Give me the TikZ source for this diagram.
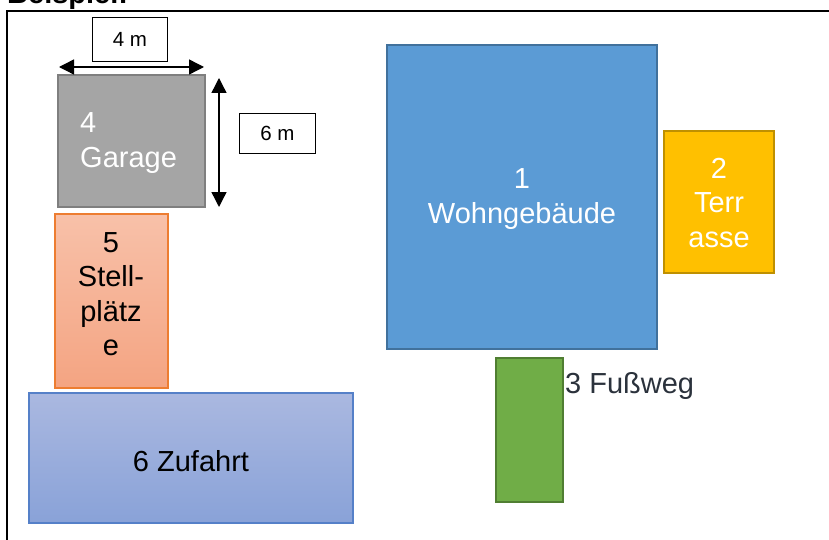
\documentclass[tikz,border=0pt]{standalone}
\usepackage{fontspec}
\setmainfont{Liberation Sans}
\usetikzlibrary{arrows.meta}
\definecolor{garagefill}{HTML}{A5A5A5}
\definecolor{garageline}{HTML}{7F7F7F}
\definecolor{stelltop}{HTML}{F8C1A9}
\definecolor{stellbot}{HTML}{F4A482}
\definecolor{stellline}{HTML}{ED7D31}
\definecolor{zutop}{HTML}{AAB8E0}
\definecolor{zubot}{HTML}{89A2D8}
\definecolor{zuline}{HTML}{5580C8}
\definecolor{wohnfill}{HTML}{5B9BD5}
\definecolor{wohnline}{HTML}{41719C}
\definecolor{terrfill}{HTML}{FFC000}
\definecolor{terrline}{HTML}{BF9000}
\definecolor{wegfill}{HTML}{70AD47}
\definecolor{wegline}{HTML}{507E32}
\definecolor{wegtext}{HTML}{2B323C}
\begin{document}
\begin{tikzpicture}[x=1pt,y=-1pt,
  area/.style={draw, line width=1.8pt, inner sep=0pt, outer sep=0pt, anchor=north west},
  big/.style={font=\fontsize{29}{34.5}\selectfont, align=center, inner sep=0pt},
  dimbox/.style={draw=black, line width=1pt, fill=white, anchor=north west, inner sep=0pt, font=\fontsize{20.5}{24}\selectfont},
  dimarrow/.style={{Triangle[length=15pt,width=15pt]}-{Triangle[length=15pt,width=15pt]}, line width=1.4pt}]
\useasboundingbox (0,0) rectangle (829,540);
% frame
\draw[line width=2pt] (7,541) -- (7,11) -- (830,11);
\node[anchor=base west, inner sep=0pt, font=\bfseries\fontsize{29}{34}\selectfont] (title) at (7,4) {Beispiel:};
% garage
\node[area, fill=garagefill, draw=garageline, minimum width=147pt, minimum height=132pt] (garage) at (58,75) {};
\node[big, text=white, align=left, anchor=west] (garagetext) at (80,143) {4\\Garage};
% dimensions
\node[dimbox, minimum width=75pt, minimum height=44pt] (dimw) at (92,17) {4 m};
\node[dimbox, minimum width=76pt, minimum height=40pt] (dimh) at (239,113) {6 m};
\coordinate (hl) at (59,67);
\coordinate (hr) at (204,67);
\draw[dimarrow] (hl) -- (hr);
\coordinate (vt) at (219,78);
\coordinate (vb) at (219,207);
\draw[dimarrow] (vt) -- (vb);
% Stellplaetze
\node[area, top color=stelltop, bottom color=stellbot, draw=stellline, line width=1.3pt, minimum width=113pt, minimum height=174pt] (stell) at (55,214) {};
\node[big, text=black] (stelltext) at (111,294) {5\\Stell-\\plätz\\e};
% Zufahrt
\node[area, top color=zutop, bottom color=zubot, draw=zuline, line width=1.4pt, minimum width=324pt, minimum height=130pt] (zufahrt) at (29,393) {};
\node[big, text=black] (zutext) at (191,461) {6 Zufahrt};
% Wohngebaeude
\node[area, fill=wohnfill, draw=wohnline, minimum width=270pt, minimum height=304pt] (wohn) at (387,45) {};
\node[big, text=white] (wohntext) at (522,199) {1\\Wohngebäude};
% Terrasse
\node[area, fill=terrfill, draw=terrline, minimum width=110pt, minimum height=142pt] (terr) at (664,131) {};
\node[big, text=white] (terrtext) at (719,203) {2\\Terr\\asse};
% Fussweg
\node[area, fill=wegfill, draw=wegline, minimum width=67pt, minimum height=144pt] (weg) at (496,358) {};
\node[big, text=wegtext, anchor=west] (wegtext) at (565,386) {3 Fußweg};
\end{tikzpicture}
\end{document}
